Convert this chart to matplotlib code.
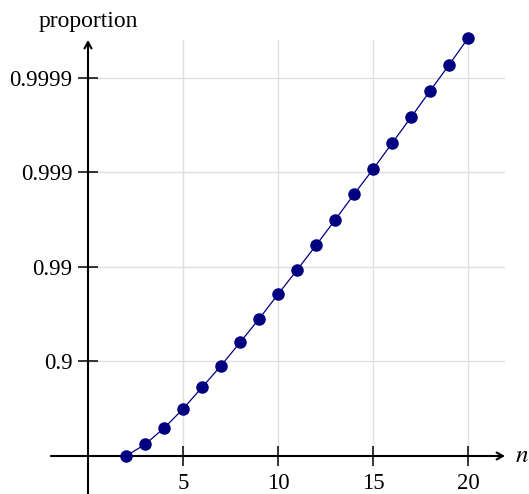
import numpy as np
import matplotlib
matplotlib.use('Agg')
import matplotlib.pyplot as plt

plt.rcParams['font.family'] = ['Liberation Serif', 'DejaVu Serif']
plt.rcParams['mathtext.fontset'] = 'stix'

# values
n = list(range(2, 21))
proportion = [0.0, 0.245, 0.492, 0.682, 0.812, 0.889, 0.937, 0.9644, 0.9805,
              0.9892, 0.99408, 0.99680, 0.99829, 0.999071, 0.999507,
              0.999738, 0.999862, 0.9999267, 0.9999618]
xticks = [5, 10, 15, 20]
yticks = [0.9, 0.99, 0.999, 0.9999]
ytick_labels = ['0.9', '0.99', '0.999', '0.9999']


def forward(p):
    return -np.log10(np.clip(1 - np.asarray(p, dtype=float), 1e-12, None))


def inverse(t):
    return 1 - 10 ** (-np.asarray(t, dtype=float))


fig = plt.figure(figsize=(5.29, 4.94), dpi=100)
ax = fig.add_axes([88 / 529, 38 / 494, 417 / 529, 416 / 494])
ax.set_yscale('function', functions=(forward, inverse))

ax.plot(n, proportion, color='navy', lw=0.9, marker='o', markersize=8,
        clip_on=False, zorder=5)

ax.set_xlim(0, 21.95)
ax.set_ylim(0, inverse(4.40))

ax.set_xticks(xticks)
ax.set_xticklabels([str(v) for v in xticks])
ax.set_yticks(yticks)
ax.set_yticklabels(ytick_labels)
ax.xaxis.set_minor_locator(matplotlib.ticker.NullLocator())
ax.yaxis.set_minor_locator(matplotlib.ticker.NullLocator())
ax.tick_params(direction='inout', length=14, width=1.1, labelsize=16.5,
               colors='black')
ax.tick_params(axis='y', pad=4)
ax.tick_params(axis='x', pad=5)
ax.grid(True, color='#e0e0e0', lw=1.0)
ax.set_axisbelow(True)

for s in ax.spines.values():
    s.set_visible(False)

arrow = dict(arrowstyle='->,head_length=0.45,head_width=0.25', lw=1.5,
             color='black', shrinkA=0, shrinkB=0)
ax.annotate('', xy=(1, 0), xycoords=('axes fraction', 'data'),
            xytext=(-1.95, 0), textcoords='data', arrowprops=arrow,
            annotation_clip=False)
ax.annotate('', xy=(0, 1), xycoords=('data', 'axes fraction'),
            xytext=(0, inverse(-0.404)), textcoords='data', arrowprops=arrow,
            annotation_clip=False)

ax.annotate('$n$', xy=(1, 0), xycoords=('axes fraction', 'data'),
            xytext=(7, -4.5), textcoords='offset points', fontsize=18,
            ha='left', va='baseline', annotation_clip=False)
ax.annotate('proportion', xy=(0, 1), xycoords='axes fraction',
            xytext=(0, 9.5), textcoords='offset points', fontsize=17,
            ha='center', va='baseline', annotation_clip=False)

fig.savefig('out.png', dpi=100)
